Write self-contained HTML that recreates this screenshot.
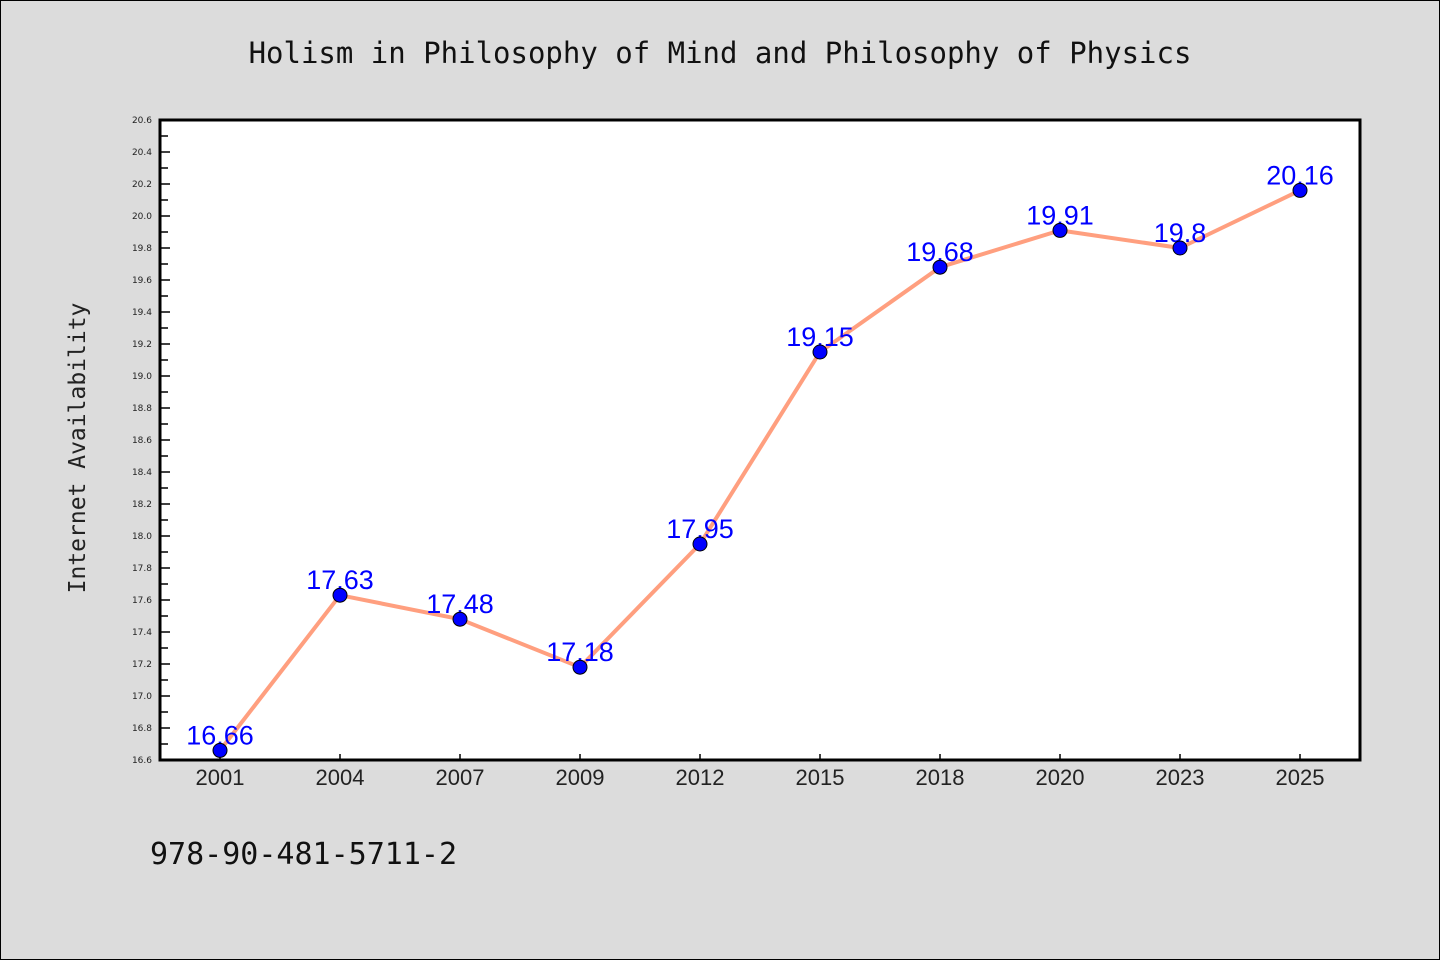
<!DOCTYPE html>
<html><head><meta charset="utf-8"><style>
body{margin:0;background:#dcdcdc;}
svg{display:block}
</style></head><body>
<svg width="1440" height="960" xmlns="http://www.w3.org/2000/svg">
<rect x="0.5" y="0.5" width="1439" height="959" fill="#dcdcdc" stroke="#000"/>
<text x="720" y="63" text-anchor="middle" font-family="DejaVu Sans Mono, monospace" font-size="29" fill="#111">Holism in Philosophy of Mind and Philosophy of Physics</text>
<rect x="160" y="120" width="1200" height="640" fill="#fff"/>
<g id="g"></g>
<rect x="160" y="120" width="1200" height="640" fill="none" stroke="#000" stroke-width="3"/>
<text transform="translate(85,448) rotate(-90)" text-anchor="middle" font-family="DejaVu Sans Mono, monospace" font-size="23" fill="#222">Internet Availability</text>
<text x="150" y="864" font-family="DejaVu Sans Mono, monospace" font-size="30" fill="#111">978-90-481-5711-2</text>
</svg>
<script>
const categories=["2001","2004","2007","2009","2012","2015","2018","2020","2023","2025"];
const values=[16.66,17.63,17.48,17.18,17.95,19.15,19.68,19.91,19.8,20.16];
const valueLabels=["16.66","17.63","17.48","17.18","17.95","19.15","19.68","19.91","19.8","20.16"];
const yMin=16.6,yMax=20.6;
const NS="http://www.w3.org/2000/svg";
const g=document.getElementById('g');
const L=160,R=1360,T=120,B=760;
function x(i){return L+(R-L)/categories.length*(i+0.5);}
function y(v){return B-(v-yMin)/(yMax-yMin)*(B-T);}
function mk(t,a){const e=document.createElementNS(NS,t);for(const k in a)e.setAttribute(k,a[k]);g.appendChild(e);return e;}
for(let k=0;k<=40;k++){
  const v=yMin+k*0.1, yy=y(v), major=k%2===0;
  const t=mk('line',{x1:L,x2:L+(major?10:8),y1:yy,y2:yy,stroke:'#000','stroke-width':1.5});
  
  
  if(major){
    const tx=mk('text',{x:L-8,y:yy+3,'text-anchor':'end','font-family':'DejaVu Sans, sans-serif','font-size':9,fill:'#222'});
    tx.textContent=v.toFixed(1);
    
    
  }
}
categories.forEach((c,i)=>{
  const t=mk('line',{x1:x(i),x2:x(i),y1:B,y2:B-6,stroke:'#000','stroke-width':1.5});
  
  
  const tx=mk('text',{x:x(i),y:B+25,'text-anchor':'middle','font-family':'Liberation Sans, sans-serif','font-size':22,fill:'#222'});
  tx.textContent=c;
  
  
});
const line=mk('polyline',{points:values.map((v,i)=>x(i)+','+y(v)).join(' '),fill:'none',stroke:'#ff9f7f','stroke-width':4,'stroke-linejoin':'round'});


values.forEach((v,i)=>{
  const tx=mk('text',{x:x(i),y:y(v)-6,'text-anchor':'middle','font-family':'Liberation Sans, sans-serif','font-size':27,fill:'#0000ff'});
  tx.textContent=valueLabels[i];
  
  
});
values.forEach((v,i)=>{
  const c=mk('circle',{cx:x(i),cy:y(v),r:7,fill:'#0000ff',stroke:'#000','stroke-width':1});
  
  
});
</script>
</body></html>
